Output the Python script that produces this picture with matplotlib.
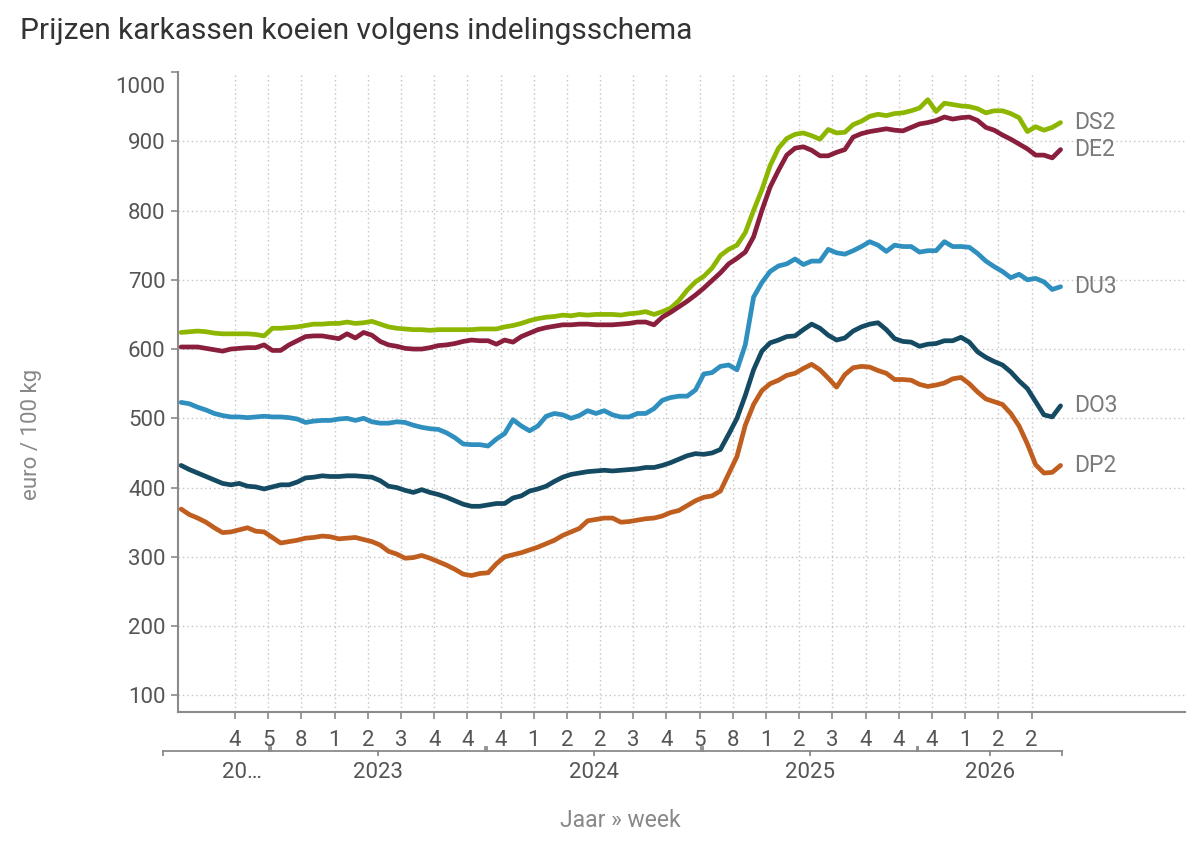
import matplotlib
matplotlib.use("Agg")
import matplotlib.pyplot as plt
import numpy as np

plt.rcParams['font.family'] = ['Roboto', 'DejaVu Sans']

# ---- data -------------------------------------------------------------
# week index: 0 = 2022 week 44; one sample every two weeks
week_index = list(range(-13, 200, 2))

DS2 = [624, 625, 626, 625, 623, 622, 622, 622, 622, 621, 619, 630, 630, 631, 632, 634, 636, 636, 637, 637, 639, 637, 638, 640, 636, 632,
       630, 629, 628, 628, 627, 628, 628, 628, 628, 628, 629, 629, 629, 632, 634, 637, 641, 644, 646, 647, 649, 648, 650, 649, 650, 650,
       650, 649, 651, 652, 654, 650, 654, 659, 670, 685, 697, 705, 717, 735, 744, 750, 768, 800, 830, 865, 890, 904, 910, 912, 908, 903,
       917, 912, 913, 924, 929, 936, 939, 937, 940, 941, 944, 948, 960, 943, 955, 953, 951, 950, 947, 941, 944, 944, 940, 934, 914, 921, 916, 920, 927]
DE2 = [603, 603, 603, 601, 599, 597, 600, 601, 602, 602, 606, 598, 598, 606, 612, 618, 619, 619, 617, 615, 622, 616, 624, 620, 611, 606,
       604, 601, 600, 600, 602, 605, 606, 608, 611, 613, 612, 612, 607, 613, 610, 618, 623, 628, 631, 633, 635, 635, 636, 636, 635, 635,
       635, 636, 637, 639, 639, 635, 646, 653, 661, 669, 678, 688, 699, 710, 723, 731, 740, 762, 800, 834, 858, 880, 890, 892, 887, 879,
       879, 884, 888, 906, 911, 914, 916, 918, 916, 915, 920, 925, 927, 930, 935, 932, 934, 935, 930, 920, 916, 909, 903, 896, 889, 880, 880, 876, 888]
DU3 = [523, 521, 516, 512, 507, 504, 502, 502, 501, 502, 503, 502, 502, 501, 499, 494, 496, 497, 497, 499, 500, 497, 500, 495, 493, 493,
       495, 494, 490, 487, 485, 484, 479, 472, 463, 462, 462, 460, 470, 478, 498, 489, 482, 489, 503, 507, 505, 500, 504, 511, 507, 511,
       505, 502, 502, 507, 507, 514, 526, 530, 532, 532, 541, 564, 566, 575, 577, 570, 606, 675, 696, 712, 720, 723, 730, 722, 727, 727,
       744, 739, 737, 742, 748, 755, 750, 741, 750, 748, 748, 740, 742, 742, 755, 748, 748, 747, 738, 727, 719, 712, 703, 708, 700, 702, 697, 686, 690]
DO3 = [432, 426, 421, 416, 411, 406, 404, 406, 402, 401, 398, 401, 404, 404, 408, 414, 415, 417, 416, 416, 417, 417, 416, 415, 410, 402,
       400, 396, 393, 397, 393, 390, 386, 381, 376, 373, 373, 375, 377, 377, 385, 388, 395, 398, 402, 409, 415, 419, 421, 423, 424, 425,
       424, 425, 426, 427, 429, 429, 432, 436, 441, 446, 449, 448, 450, 455, 477, 500, 533, 570, 597, 609, 613, 618, 619, 628, 636, 630,
       620, 613, 616, 626, 632, 636, 638, 628, 615, 611, 610, 604, 607, 608, 612, 612, 617, 610, 596, 588, 582, 577, 567, 554, 543, 524, 505, 502, 518]
DP2 = [369, 361, 356, 350, 342, 335, 336, 339, 342, 337, 336, 328, 320, 322, 324, 327, 328, 330, 329, 326, 327, 328, 325, 322, 317, 308,
       304, 298, 299, 302, 298, 293, 288, 282, 275, 273, 276, 277, 290, 300, 303, 306, 310, 314, 319, 324, 331, 336, 341, 352, 354, 356,
       356, 350, 351, 353, 355, 356, 359, 364, 367, 374, 381, 386, 388, 395, 420, 445, 490, 520, 540, 550, 555, 562, 565, 572, 578, 570,
       558, 545, 563, 573, 575, 574, 569, 565, 556, 556, 555, 549, 546, 548, 551, 557, 559, 550, 538, 528, 524, 520, 507, 489, 463, 433, 421, 422, 432]

series_names = ["DS2", "DE2", "DU3", "DO3", "DP2"]
series_values = [DS2, DE2, DU3, DO3, DP2]
series_colors = ["#8db600", "#8a1f3d", "#2f8fbf", "#154b62", "#bf5e1f"]

# x-axis ticks (every 8 weeks) and their labels (first digit of week number)
tick_positions = list(range(0, 193, 8))
tick_labels = ["4", "5", "8", "1", "2", "3", "4", "4", "4", "1", "2", "2", "3",
               "4", "5", "8", "1", "2", "3", "4", "4", "4", "1", "2", "2"]

year_labels = ["20…", "2023", "2024", "2025", "2026"]
year_first = [-17, 9, 61, 113, 165]
year_last = [8, 60, 112, 164, 199]

y_ticks = [100, 200, 300, 400, 500, 600, 700, 800, 900, 1000]

# ---- figure -----------------------------------------------------------
W, H = 1200, 855
fig = plt.figure(figsize=(W / 100, H / 100), dpi=100)
ax_l, ax_r, ax_t, ax_b = 178, 1185, 72, 712
ax = fig.add_axes([ax_l / W, 1 - ax_b / H, (ax_r - ax_l) / W, (ax_b - ax_t) / H])

for name, vals, col in zip(series_names, series_values, series_colors):
    ax.plot(week_index, vals, color=col, lw=3.4, solid_joinstyle='round',
            solid_capstyle='round', zorder=3)
    ax.annotate(name, xy=(week_index[-1], vals[-1]), xytext=(10, 0),
                textcoords='offset points', ha='left', va='center',
                fontsize=16.5, color='#7a7a7a')

ax.set_xlim(-13.75, 229)
ax.set_ylim(76, 1000)

ax.set_xticks(tick_positions)
ax.set_xticklabels(tick_labels)
ax.set_yticks(y_ticks)
# top label (1000) is drawn separately, shifted down inside the axis
ax.set_yticklabels([str(v) for v in y_ticks[:-1]] + [""])
ax.text(-0.0125, 977, str(y_ticks[-1]), transform=ax.get_yaxis_transform(),
        ha='right', va='center', fontsize=16, color='#555555')

grid_kw = dict(color='#c4c4c4', lw=1.0, linestyle=(0, (1, 2.2)), zorder=1)
for yv in y_ticks[:-1]:
    ax.axhline(yv, **grid_kw)
for xv in tick_positions:
    ax.axvline(xv, **grid_kw)

for s in ['top', 'right']:
    ax.spines[s].set_visible(False)
for s in ['left', 'bottom']:
    ax.spines[s].set_color('#8a8a8a')
    ax.spines[s].set_linewidth(1.5)

ax.tick_params(axis='both', colors='#8a8a8a', labelcolor='#555555',
               labelsize=16, width=1.2, length=5, direction='out')
ax.tick_params(axis='y', pad=4)
ax.tick_params(axis='x', pad=8)

# year brackets below the axis
trans = ax.get_xaxis_transform()
axh = ax_b - ax_t
yb = -(750.7 - ax_b) / axh
dt = 4.0 / axh
ylab = -(772 - ax_b) / axh
bcol = '#8a8a8a'
for i, (lab, f, l) in enumerate(zip(year_labels, year_first, year_last)):
    x0 = f - 0.3
    x1 = l + 0.3
    ax.plot([x0, x1], [yb, yb], color=bcol, lw=1.3, transform=trans, clip_on=False)
    if i == 0:
        ax.plot([x0, x0], [yb, yb - dt], color=bcol, lw=1.3, transform=trans, clip_on=False)
    else:
        ax.plot([x0, x0], [yb, yb + dt], color=bcol, lw=1.3, transform=trans, clip_on=False)
    if i == len(year_labels) - 1:
        ax.plot([x1, x1], [yb, yb - dt], color=bcol, lw=1.3, transform=trans, clip_on=False)
    else:
        ax.plot([x1, x1], [yb, yb + dt], color=bcol, lw=1.3, transform=trans, clip_on=False)
    xc = (x0 + x1) / 2
    if i == 0:
        xc = 1.6
    else:
        ax.plot([xc, xc], [yb, yb - dt], color=bcol, lw=1.3, transform=trans, clip_on=False)
    ax.text(xc, ylab, lab, transform=trans, ha='center', va='center',
            fontsize=16, color='#555555')

# titles
fig.text(20 / W, 1 - 31 / H, "Prijzen karkassen koeien volgens indelingsschema",
         ha='left', va='center', fontsize=21.5, color='#333333')
fig.text(31 / W, 1 - 434 / H, "euro / 100 kg", rotation=90, ha='center', va='center',
         fontsize=16, color='#888888')
fig.text(620 / W, 1 - 820 / H, "Jaar » week", ha='center', va='center',
         fontsize=16.5, color='#888888')

fig.savefig("out.png", dpi=100)
